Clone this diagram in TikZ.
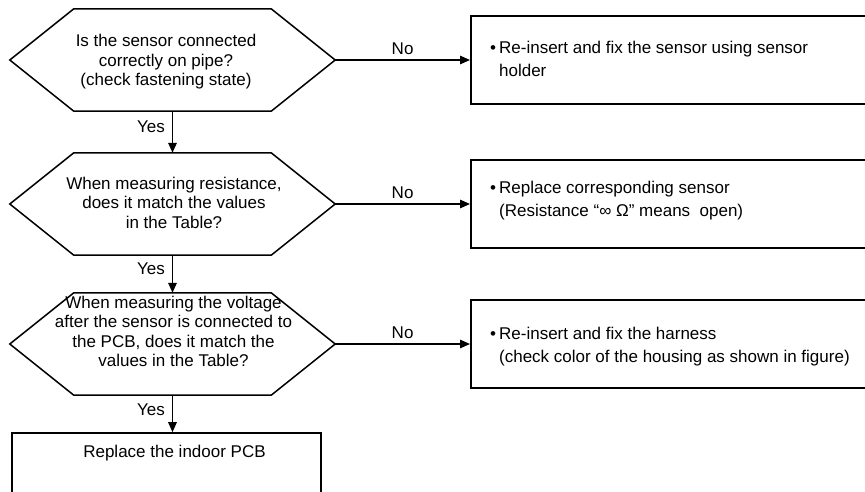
\documentclass[tikz,border=0pt]{standalone}
\usepackage{fontspec}
\setmainfont{Liberation Sans}
\usetikzlibrary{arrows.meta}
\begin{document}
\begin{tikzpicture}[x=1pt,y=1pt,
  hexa/.style={minimum width=325pt,minimum height=102pt,inner sep=0pt},
  qtext/.style={align=center,font=\fontsize{17}{19.5}\selectfont,inner sep=0pt},
  actbox/.style={draw,line width=1.6pt,anchor=west,minimum width=420pt,minimum height=88pt,inner sep=0pt},
  acttext/.style={anchor=west,align=left,font=\fontsize{17}{23}\selectfont,inner sep=0pt},
  arr/.style={line width=1.5pt,-{Triangle[length=10pt,width=8.5pt]}},
  lbl/.style={font=\fontsize{17}{20}\selectfont,inner sep=0pt},
  hexline/.style={line width=1.5pt,line join=miter}
]
\useasboundingbox (0,0) rectangle (865,-491);
\clip (0,0) rectangle (865,-491);

% decision hexagons (anchor nodes)
\node[hexa] (h1) at (172.5,-60) {};
\node[hexa] (h2) at (172.5,-204) {};
\node[hexa] (h3) at (172.5,-344) {};
\foreach \h in {h1,h2,h3}{
  \draw[hexline] (\h.west) -- ([xshift=64pt]\h.north west) -- ([xshift=-64pt]\h.north east)
    -- (\h.east) -- ([xshift=-64pt]\h.south east) -- ([xshift=64pt]\h.south west) -- cycle;
}
\node[qtext] (h1t) at (166,-62) {Is the sensor connected\\correctly on pipe?\\(check fastening state)};
\node[qtext] (h2t) at (174,-202.5) {When measuring resistance,\\does it match the values\\in the Table?};
\node[qtext] (h3t) at (173.5,-331.5) {When measuring the voltage\\after the sensor is connected to\\the PCB, does it match the\\values in the Table?};

% action boxes
\node[actbox] (b1) at (470,-60) {};
\node[actbox] (b2) at (470,-204) {};
\node[actbox] (b3) at (470,-344) {};
\node[acttext] (b1t) at (490,-60.5) {\begin{tabular}{@{}l@{\hspace{3pt}}l@{}}•&Re-insert and fix the sensor using sensor\\&holder\end{tabular}};
\node[acttext] (b2t) at (490,-200.5) {\begin{tabular}{@{}l@{\hspace{3pt}}l@{}}•&Replace corresponding sensor\\&(Resistance “∞ Ω” means\ \ open)\end{tabular}};
\node[acttext] (b3t) at (490,-346) {\begin{tabular}{@{}l@{\hspace{3pt}}l@{}}•&Re-insert and fix the harness\\&(check color of the housing as shown in figure)\end{tabular}};

% final box
\node[draw,line width=1.6pt,minimum width=309pt,minimum height=87pt,inner sep=0pt] (pcbbox) at (166.5,-476.5) {};
\node[lbl] (pcb) at (174.5,-453) {Replace the indoor PCB};

% connectors
\draw[arr] (h1.east) -- node[lbl,above=5pt]{No} (b1.west);
\draw[arr] (h2.east) -- node[lbl,above=5pt]{No} (b2.west);
\draw[arr] (h3.east) -- node[lbl,above=5pt]{No} (b3.west);
\draw[arr] (h1.south) -- node[lbl,pos=0.37,left=7pt]{Yes} (h2.north);
\draw[arr] (h2.south) -- node[lbl,pos=0.37,left=7pt]{Yes} (h3.north);
\draw[arr] (h3.south) -- node[lbl,pos=0.39,left=7pt]{Yes} (h3.south |- pcbbox.north);
\end{tikzpicture}
\end{document}
